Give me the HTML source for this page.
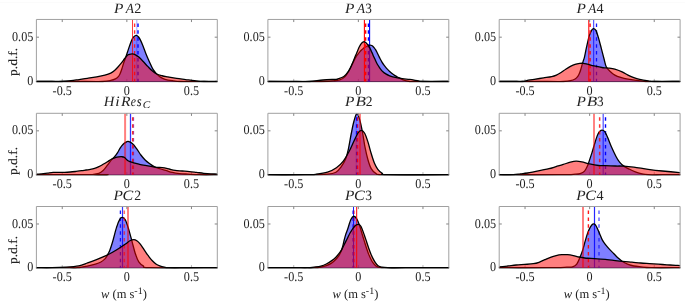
<!DOCTYPE html>
<html><head><meta charset="utf-8"><title>pdf of w</title>
<style>
html,body{margin:0;padding:0;background:#fff;}
body{width:685px;height:301px;overflow:hidden;}
svg{display:block;}
text{font-family:"Liberation Serif",serif;fill:#222;text-rendering:geometricPrecision;}
.tk{font-size:13.5px;}
.ti{font-size:14px;font-style:italic;}
.tn{font-size:13.6px;}
.ax{fill:none;stroke:#a0a0a0;stroke-width:1;}
.cv{fill:none;stroke:#000;stroke-width:1.3;stroke-linejoin:round;}
</style></head><body>
<svg width="685" height="301" viewBox="0 0 685 301">
<rect width="685" height="301" fill="#fff"/><rect y="2" width="685" height="1" fill="#fbfbfb"/>

<path class="ax" style="stroke:#b4b4b4" d="M62.24,81.50 v-2.6 M126.85,81.50 v-2.6 M191.46,81.50 v-2.6"/>
<line x1="35.90" y1="81.60" x2="217.80" y2="81.60" stroke="#1c1c1c" stroke-width="0.9"/>
<clipPath id="c1"><rect x="36.40" y="19.45" width="180.90" height="63.05"/></clipPath>
<g clip-path="url(#c1)">
<line x1="136.80" y1="19.45" x2="136.80" y2="81.50" stroke="#0000ff" stroke-width="1.0" stroke-opacity="0.35"/>
<line x1="138.00" y1="19.45" x2="138.00" y2="81.50" stroke="#0000ff" stroke-width="1.4" stroke-opacity="1" stroke-dasharray="3.5 3.4" stroke-dashoffset="2.9"/>
<path d="M24.40,81.50 C34.56,81.50 72.36,81.50 85.38,81.50 C98.41,81.50 98.33,81.67 102.55,81.50 C106.78,81.33 108.59,80.89 110.73,80.46 C112.87,80.03 114.14,79.58 115.40,78.94 C116.67,78.30 117.54,77.48 118.32,76.61 C119.10,75.73 119.49,74.95 120.07,73.69 C120.66,72.42 121.24,70.77 121.82,69.01 C122.41,67.26 122.99,64.93 123.58,63.18 C124.16,61.42 124.46,61.01 125.33,58.50 C126.20,56.00 127.83,50.92 128.78,48.16 C129.72,45.39 130.26,43.71 131.00,41.93 C131.75,40.14 132.38,38.55 133.23,37.47 C134.08,36.40 135.23,35.55 136.12,35.47 C137.01,35.40 137.83,36.21 138.57,37.03 C139.31,37.85 139.83,38.88 140.57,40.37 C141.32,41.85 142.13,43.71 143.02,45.93 C143.91,48.16 144.88,51.12 145.92,53.72 C146.95,56.32 148.14,59.02 149.25,61.51 C150.37,63.99 151.48,66.70 152.59,68.63 C153.70,70.56 154.63,71.67 155.93,73.08 C157.23,74.49 158.86,76.05 160.38,77.09 C161.90,78.13 163.09,78.72 165.05,79.31 C167.02,79.91 169.51,80.28 172.18,80.65 C174.85,81.01 175.77,81.36 181.08,81.50 C186.38,81.64 195.96,81.50 204.00,81.50 C212.04,81.50 225.08,81.50 229.30,81.50 L229.30,81.50 L24.40,81.50 Z" fill="#0000ff" fill-opacity="0.5" stroke="none"/>
<path class="cv" d="M24.40,81.50 C34.56,81.50 72.36,81.50 85.38,81.50 C98.41,81.50 98.33,81.67 102.55,81.50 C106.78,81.33 108.59,80.89 110.73,80.46 C112.87,80.03 114.14,79.58 115.40,78.94 C116.67,78.30 117.54,77.48 118.32,76.61 C119.10,75.73 119.49,74.95 120.07,73.69 C120.66,72.42 121.24,70.77 121.82,69.01 C122.41,67.26 122.99,64.93 123.58,63.18 C124.16,61.42 124.46,61.01 125.33,58.50 C126.20,56.00 127.83,50.92 128.78,48.16 C129.72,45.39 130.26,43.71 131.00,41.93 C131.75,40.14 132.38,38.55 133.23,37.47 C134.08,36.40 135.23,35.55 136.12,35.47 C137.01,35.40 137.83,36.21 138.57,37.03 C139.31,37.85 139.83,38.88 140.57,40.37 C141.32,41.85 142.13,43.71 143.02,45.93 C143.91,48.16 144.88,51.12 145.92,53.72 C146.95,56.32 148.14,59.02 149.25,61.51 C150.37,63.99 151.48,66.70 152.59,68.63 C153.70,70.56 154.63,71.67 155.93,73.08 C157.23,74.49 158.86,76.05 160.38,77.09 C161.90,78.13 163.09,78.72 165.05,79.31 C167.02,79.91 169.51,80.28 172.18,80.65 C174.85,81.01 175.77,81.36 181.08,81.50 C186.38,81.64 195.96,81.50 204.00,81.50 C212.04,81.50 225.08,81.50 229.30,81.50"/>
<line x1="132.50" y1="19.45" x2="132.50" y2="81.50" stroke="#ff0000" stroke-width="0.9" stroke-opacity="0.85"/>
<line x1="134.60" y1="19.45" x2="134.60" y2="81.50" stroke="#ff0000" stroke-width="1.4" stroke-opacity="0.8" stroke-dasharray="3.5 3.4" stroke-dashoffset="2.9"/>
<path d="M24.40,81.50 C26.40,81.50 31.82,81.50 36.42,81.50 C41.02,81.50 47.79,81.50 52.00,81.50 C56.21,81.50 58.51,81.63 61.68,81.50 C64.85,81.37 68.10,81.02 71.02,80.69 C73.94,80.36 76.47,79.91 79.20,79.53 C81.92,79.14 84.45,78.81 87.37,78.36 C90.29,77.91 93.80,77.38 96.72,76.84 C99.64,76.29 102.55,75.71 104.89,75.09 C107.23,74.46 109.17,73.82 110.73,73.10 C112.29,72.38 113.07,71.74 114.23,70.77 C115.40,69.79 116.57,68.53 117.74,67.26 C118.91,66.00 120.07,64.64 121.24,63.18 C122.41,61.72 123.67,59.87 124.74,58.50 C125.82,57.14 126.99,55.65 127.66,55.00 C128.34,54.35 128.04,54.79 128.78,54.61 C129.52,54.43 131.00,53.91 132.12,53.94 C133.23,53.98 134.34,54.31 135.46,54.83 C136.57,55.35 137.50,55.95 138.79,57.06 C140.09,58.17 141.76,59.95 143.24,61.51 C144.73,63.07 146.21,64.85 147.70,66.41 C149.18,67.96 150.66,69.60 152.15,70.86 C153.63,72.12 154.93,73.16 156.60,73.97 C158.27,74.79 160.31,75.27 162.16,75.75 C164.02,76.23 165.31,76.42 167.72,76.87 C170.14,77.31 173.66,77.98 176.63,78.42 C179.59,78.87 182.56,79.16 185.53,79.54 C188.50,79.91 191.35,80.32 194.43,80.65 C197.51,80.98 199.92,81.36 204.00,81.50 C208.08,81.64 214.69,81.50 218.91,81.50 C223.13,81.50 227.57,81.50 229.30,81.50 L229.30,81.50 L24.40,81.50 Z" fill="#ff0000" fill-opacity="0.5" stroke="none"/>
<path class="cv" d="M24.40,81.50 C26.40,81.50 31.82,81.50 36.42,81.50 C41.02,81.50 47.79,81.50 52.00,81.50 C56.21,81.50 58.51,81.63 61.68,81.50 C64.85,81.37 68.10,81.02 71.02,80.69 C73.94,80.36 76.47,79.91 79.20,79.53 C81.92,79.14 84.45,78.81 87.37,78.36 C90.29,77.91 93.80,77.38 96.72,76.84 C99.64,76.29 102.55,75.71 104.89,75.09 C107.23,74.46 109.17,73.82 110.73,73.10 C112.29,72.38 113.07,71.74 114.23,70.77 C115.40,69.79 116.57,68.53 117.74,67.26 C118.91,66.00 120.07,64.64 121.24,63.18 C122.41,61.72 123.67,59.87 124.74,58.50 C125.82,57.14 126.99,55.65 127.66,55.00 C128.34,54.35 128.04,54.79 128.78,54.61 C129.52,54.43 131.00,53.91 132.12,53.94 C133.23,53.98 134.34,54.31 135.46,54.83 C136.57,55.35 137.50,55.95 138.79,57.06 C140.09,58.17 141.76,59.95 143.24,61.51 C144.73,63.07 146.21,64.85 147.70,66.41 C149.18,67.96 150.66,69.60 152.15,70.86 C153.63,72.12 154.93,73.16 156.60,73.97 C158.27,74.79 160.31,75.27 162.16,75.75 C164.02,76.23 165.31,76.42 167.72,76.87 C170.14,77.31 173.66,77.98 176.63,78.42 C179.59,78.87 182.56,79.16 185.53,79.54 C188.50,79.91 191.35,80.32 194.43,80.65 C197.51,80.98 199.92,81.36 204.00,81.50 C208.08,81.64 214.69,81.50 218.91,81.50 C223.13,81.50 227.57,81.50 229.30,81.50"/>
</g>
<path class="ax" d="M36.40,81.50 L36.40,19.45 L217.30,19.45 L217.30,81.50"/>
<path class="ax" style="stroke:#858585" d="M62.24,19.45 v2.60 M126.85,19.45 v2.60 M191.46,19.45 v2.60 M36.40,37.18 h2.60 M217.30,37.18 h-2.60"/>
<text class="tk" transform="translate(62.24,95.20) scale(0.9,1)" text-anchor="middle">-0.5</text>
<text class="tk" transform="translate(126.85,95.20) scale(0.9,1)" text-anchor="middle">0</text>
<text class="tk" transform="translate(191.46,95.20) scale(0.9,1)" text-anchor="middle">0.5</text>
<text class="tk" transform="translate(33.30,40.78) scale(0.9,1)" text-anchor="end">0.05</text>
<text class="tk" transform="translate(33.30,85.10) scale(0.9,1)" text-anchor="end">0</text>
<text y="12.50"><tspan x="113.90" textLength="9.38" lengthAdjust="spacingAndGlyphs" style="font-size:14.2px;font-style:italic">P</tspan><tspan x="125.87" textLength="8.24" lengthAdjust="spacingAndGlyphs" style="font-size:14.2px;font-style:italic">A</tspan><tspan x="134.33" textLength="7.12" lengthAdjust="spacingAndGlyphs" style="font-size:14.2px">2</tspan></text>
<text class="tk" transform="translate(17.2,61.90) rotate(-90) scale(1.085,1)" text-anchor="middle" style="font-size:12.5px;stroke:#222;stroke-width:0.15px">p.d.f.</text>
<path class="ax" style="stroke:#b4b4b4" d="M293.74,81.50 v-2.6 M358.35,81.50 v-2.6 M422.96,81.50 v-2.6"/>
<line x1="267.40" y1="81.60" x2="449.30" y2="81.60" stroke="#1c1c1c" stroke-width="0.9"/>
<clipPath id="c2"><rect x="267.90" y="19.45" width="180.90" height="63.05"/></clipPath>
<g clip-path="url(#c2)">
<line x1="368.50" y1="19.45" x2="368.50" y2="81.50" stroke="#0000ff" stroke-width="1.5" stroke-opacity="1" stroke-dasharray="3.5 3.4" stroke-dashoffset="2.9"/>
<line x1="369.60" y1="19.45" x2="369.60" y2="81.50" stroke="#0000ff" stroke-width="1.1" stroke-opacity="1"/>
<path d="M255.90,81.50 C265.98,81.50 303.52,81.60 316.38,81.50 C329.24,81.40 329.18,81.12 333.07,80.87 C336.97,80.62 337.75,80.69 339.75,79.98 C341.75,79.28 343.59,78.11 345.09,76.64 C346.59,75.17 347.59,73.14 348.74,71.17 C349.89,69.20 350.91,66.99 352.00,64.82 C353.08,62.64 354.29,59.89 355.25,58.14 C356.22,56.38 357.07,55.29 357.80,54.28 C358.53,53.27 359.02,52.79 359.63,52.09 C360.23,51.38 360.84,50.65 361.45,50.04 C362.06,49.43 362.67,48.92 363.28,48.43 C363.89,47.94 364.50,47.48 365.11,47.12 C365.72,46.75 366.39,46.51 366.94,46.24 C367.49,45.97 367.85,45.69 368.40,45.51 C368.95,45.32 369.68,45.14 370.23,45.14 C370.78,45.14 371.26,45.32 371.69,45.51 C372.12,45.69 372.36,45.85 372.79,46.24 C373.21,46.63 373.76,47.24 374.25,47.85 C374.74,48.46 375.23,49.09 375.71,49.89 C376.20,50.70 376.69,51.70 377.18,52.67 C377.66,53.65 378.17,54.76 378.64,55.74 C379.11,56.73 379.46,57.54 379.99,58.56 C380.52,59.58 381.15,60.75 381.82,61.85 C382.49,62.95 383.22,64.04 384.01,65.14 C384.80,66.24 385.72,67.46 386.57,68.43 C387.43,69.41 388.22,70.14 389.13,70.99 C390.05,71.84 391.08,72.78 392.06,73.55 C393.03,74.32 394.01,74.99 394.98,75.60 C395.96,76.21 396.43,76.44 397.91,77.21 C399.38,77.97 401.87,79.47 403.83,80.18 C405.80,80.90 407.97,81.28 409.68,81.50 C411.38,81.72 407.24,81.50 414.06,81.50 C420.88,81.50 442.80,81.50 450.59,81.50 C458.38,81.50 459.10,81.50 460.80,81.50 L460.80,81.50 L255.90,81.50 Z" fill="#0000ff" fill-opacity="0.5" stroke="none"/>
<path class="cv" d="M255.90,81.50 C265.98,81.50 303.52,81.60 316.38,81.50 C329.24,81.40 329.18,81.12 333.07,80.87 C336.97,80.62 337.75,80.69 339.75,79.98 C341.75,79.28 343.59,78.11 345.09,76.64 C346.59,75.17 347.59,73.14 348.74,71.17 C349.89,69.20 350.91,66.99 352.00,64.82 C353.08,62.64 354.29,59.89 355.25,58.14 C356.22,56.38 357.07,55.29 357.80,54.28 C358.53,53.27 359.02,52.79 359.63,52.09 C360.23,51.38 360.84,50.65 361.45,50.04 C362.06,49.43 362.67,48.92 363.28,48.43 C363.89,47.94 364.50,47.48 365.11,47.12 C365.72,46.75 366.39,46.51 366.94,46.24 C367.49,45.97 367.85,45.69 368.40,45.51 C368.95,45.32 369.68,45.14 370.23,45.14 C370.78,45.14 371.26,45.32 371.69,45.51 C372.12,45.69 372.36,45.85 372.79,46.24 C373.21,46.63 373.76,47.24 374.25,47.85 C374.74,48.46 375.23,49.09 375.71,49.89 C376.20,50.70 376.69,51.70 377.18,52.67 C377.66,53.65 378.17,54.76 378.64,55.74 C379.11,56.73 379.46,57.54 379.99,58.56 C380.52,59.58 381.15,60.75 381.82,61.85 C382.49,62.95 383.22,64.04 384.01,65.14 C384.80,66.24 385.72,67.46 386.57,68.43 C387.43,69.41 388.22,70.14 389.13,70.99 C390.05,71.84 391.08,72.78 392.06,73.55 C393.03,74.32 394.01,74.99 394.98,75.60 C395.96,76.21 396.43,76.44 397.91,77.21 C399.38,77.97 401.87,79.47 403.83,80.18 C405.80,80.90 407.97,81.28 409.68,81.50 C411.38,81.72 407.24,81.50 414.06,81.50 C420.88,81.50 442.80,81.50 450.59,81.50 C458.38,81.50 459.10,81.50 460.80,81.50"/>
<line x1="364.40" y1="19.45" x2="364.40" y2="81.50" stroke="#ff0000" stroke-width="1.1" stroke-opacity="1"/>
<line x1="365.60" y1="19.45" x2="365.60" y2="81.50" stroke="#ff0000" stroke-width="1.5" stroke-opacity="1" stroke-dasharray="3.5 3.4" stroke-dashoffset="2.9"/>
<path d="M255.90,81.50 C257.82,81.50 260.68,81.50 267.42,81.50 C274.16,81.50 289.31,81.50 296.35,81.50 C303.40,81.50 305.25,81.75 309.71,81.50 C314.16,81.25 318.61,80.35 323.06,79.98 C327.51,79.62 334.03,79.48 336.41,79.31 C338.79,79.15 336.09,79.45 337.33,78.99 C338.57,78.53 341.95,77.91 343.85,76.55 C345.75,75.19 347.38,72.88 348.74,70.85 C350.10,68.81 350.91,66.77 352.00,64.33 C353.08,61.88 354.53,57.92 355.25,56.18 C355.98,54.45 355.97,54.72 356.33,53.92 C356.70,53.11 357.07,52.25 357.43,51.36 C357.80,50.47 358.16,49.43 358.53,48.58 C358.89,47.72 359.26,46.93 359.63,46.24 C359.99,45.54 360.36,44.95 360.72,44.41 C361.09,43.87 361.45,43.41 361.82,43.02 C362.18,42.63 362.55,42.29 362.92,42.07 C363.28,41.85 363.65,41.69 364.01,41.70 C364.38,41.72 364.74,41.92 365.11,42.14 C365.48,42.36 365.84,42.68 366.21,43.02 C366.57,43.36 366.94,43.78 367.30,44.19 C367.67,44.60 368.03,44.98 368.40,45.51 C368.77,46.03 369.19,46.79 369.50,47.33 C369.80,47.88 369.92,48.15 370.23,48.80 C370.53,49.44 370.96,50.42 371.33,51.21 C371.69,52.00 372.06,52.70 372.42,53.55 C372.79,54.40 373.11,55.43 373.52,56.33 C373.93,57.22 374.40,57.94 374.87,58.93 C375.34,59.91 375.79,61.12 376.33,62.22 C376.88,63.31 377.49,64.41 378.16,65.51 C378.83,66.60 379.56,67.76 380.36,68.80 C381.15,69.83 382.00,70.87 382.92,71.72 C383.83,72.58 384.80,73.27 385.84,73.92 C386.88,74.56 387.97,75.11 389.13,75.60 C390.29,76.09 390.58,76.32 392.79,76.84 C394.99,77.36 399.56,78.29 402.37,78.72 C405.19,79.15 407.00,79.09 409.68,79.45 C412.36,79.82 416.25,80.57 418.45,80.91 C420.64,81.25 417.47,81.40 422.83,81.50 C428.19,81.60 444.26,81.50 450.59,81.50 C456.92,81.50 459.10,81.50 460.80,81.50 L460.80,81.50 L255.90,81.50 Z" fill="#ff0000" fill-opacity="0.5" stroke="none"/>
<path class="cv" d="M255.90,81.50 C257.82,81.50 260.68,81.50 267.42,81.50 C274.16,81.50 289.31,81.50 296.35,81.50 C303.40,81.50 305.25,81.75 309.71,81.50 C314.16,81.25 318.61,80.35 323.06,79.98 C327.51,79.62 334.03,79.48 336.41,79.31 C338.79,79.15 336.09,79.45 337.33,78.99 C338.57,78.53 341.95,77.91 343.85,76.55 C345.75,75.19 347.38,72.88 348.74,70.85 C350.10,68.81 350.91,66.77 352.00,64.33 C353.08,61.88 354.53,57.92 355.25,56.18 C355.98,54.45 355.97,54.72 356.33,53.92 C356.70,53.11 357.07,52.25 357.43,51.36 C357.80,50.47 358.16,49.43 358.53,48.58 C358.89,47.72 359.26,46.93 359.63,46.24 C359.99,45.54 360.36,44.95 360.72,44.41 C361.09,43.87 361.45,43.41 361.82,43.02 C362.18,42.63 362.55,42.29 362.92,42.07 C363.28,41.85 363.65,41.69 364.01,41.70 C364.38,41.72 364.74,41.92 365.11,42.14 C365.48,42.36 365.84,42.68 366.21,43.02 C366.57,43.36 366.94,43.78 367.30,44.19 C367.67,44.60 368.03,44.98 368.40,45.51 C368.77,46.03 369.19,46.79 369.50,47.33 C369.80,47.88 369.92,48.15 370.23,48.80 C370.53,49.44 370.96,50.42 371.33,51.21 C371.69,52.00 372.06,52.70 372.42,53.55 C372.79,54.40 373.11,55.43 373.52,56.33 C373.93,57.22 374.40,57.94 374.87,58.93 C375.34,59.91 375.79,61.12 376.33,62.22 C376.88,63.31 377.49,64.41 378.16,65.51 C378.83,66.60 379.56,67.76 380.36,68.80 C381.15,69.83 382.00,70.87 382.92,71.72 C383.83,72.58 384.80,73.27 385.84,73.92 C386.88,74.56 387.97,75.11 389.13,75.60 C390.29,76.09 390.58,76.32 392.79,76.84 C394.99,77.36 399.56,78.29 402.37,78.72 C405.19,79.15 407.00,79.09 409.68,79.45 C412.36,79.82 416.25,80.57 418.45,80.91 C420.64,81.25 417.47,81.40 422.83,81.50 C428.19,81.60 444.26,81.50 450.59,81.50 C456.92,81.50 459.10,81.50 460.80,81.50"/>
</g>
<path class="ax" d="M267.90,81.50 L267.90,19.45 L448.80,19.45 L448.80,81.50"/>
<path class="ax" style="stroke:#858585" d="M293.74,19.45 v2.60 M358.35,19.45 v2.60 M422.96,19.45 v2.60 M267.90,37.18 h2.60 M448.80,37.18 h-2.60"/>
<text class="tk" transform="translate(293.74,95.20) scale(0.9,1)" text-anchor="middle">-0.5</text>
<text class="tk" transform="translate(358.35,95.20) scale(0.9,1)" text-anchor="middle">0</text>
<text class="tk" transform="translate(422.96,95.20) scale(0.9,1)" text-anchor="middle">0.5</text>
<text class="tk" transform="translate(264.80,40.78) scale(0.9,1)" text-anchor="end">0.05</text>
<text class="tk" transform="translate(264.80,85.10) scale(0.9,1)" text-anchor="end">0</text>
<text y="12.50"><tspan x="345.10" textLength="9.38" lengthAdjust="spacingAndGlyphs" style="font-size:14.2px;font-style:italic">P</tspan><tspan x="356.78" textLength="8.33" lengthAdjust="spacingAndGlyphs" style="font-size:14.2px;font-style:italic">A</tspan><tspan x="365.14" textLength="6.59" lengthAdjust="spacingAndGlyphs" style="font-size:14.2px">3</tspan></text>
<path class="ax" style="stroke:#b4b4b4" d="M525.04,81.50 v-2.6 M589.65,81.50 v-2.6 M654.26,81.50 v-2.6"/>
<line x1="498.70" y1="81.60" x2="680.60" y2="81.60" stroke="#1c1c1c" stroke-width="0.9"/>
<clipPath id="c3"><rect x="499.20" y="19.45" width="180.90" height="63.05"/></clipPath>
<g clip-path="url(#c3)">
<line x1="593.70" y1="19.45" x2="593.70" y2="81.50" stroke="#0000ff" stroke-width="1.0" stroke-opacity="0.8"/>
<line x1="596.50" y1="19.45" x2="596.50" y2="81.50" stroke="#0000ff" stroke-width="1.3" stroke-opacity="0.9" stroke-dasharray="3.5 3.4" stroke-dashoffset="2.9"/>
<path d="M487.20,81.50 C497.23,81.50 534.68,81.50 547.38,81.50 C560.08,81.50 559.56,81.63 563.39,81.50 C567.23,81.37 568.45,81.12 570.40,80.69 C572.35,80.27 573.81,79.72 575.07,78.94 C576.34,78.16 577.21,77.09 577.99,76.02 C578.77,74.95 579.26,73.69 579.74,72.52 C580.23,71.35 580.52,70.28 580.91,69.01 C581.30,67.75 581.69,66.29 582.08,64.93 C582.47,63.56 582.86,62.10 583.25,60.84 C583.64,59.57 583.90,59.45 584.42,57.34 C584.93,55.22 585.53,51.73 586.33,48.16 C587.13,44.59 588.29,38.96 589.22,35.92 C590.15,32.88 591.15,31.13 591.89,29.91 C592.63,28.68 593.00,28.50 593.67,28.57 C594.34,28.65 595.08,28.76 595.90,30.35 C596.71,31.95 597.68,35.17 598.57,38.14 C599.46,41.11 600.31,44.63 601.24,48.16 C602.17,51.68 603.28,56.13 604.13,59.28 C604.98,62.44 605.30,65.00 606.36,67.07 C607.41,69.14 609.04,70.37 610.46,71.71 C611.87,73.04 613.13,74.12 614.84,75.07 C616.54,76.02 618.49,76.72 620.68,77.41 C622.88,78.09 625.31,78.65 627.99,79.16 C630.67,79.67 633.83,80.08 636.76,80.47 C639.68,80.86 642.60,81.33 645.52,81.50 C648.45,81.67 648.54,81.50 654.29,81.50 C660.04,81.50 673.70,81.50 680.01,81.50 C686.31,81.50 690.08,81.50 692.10,81.50 L692.10,81.50 L487.20,81.50 Z" fill="#0000ff" fill-opacity="0.5" stroke="none"/>
<path class="cv" d="M487.20,81.50 C497.23,81.50 534.68,81.50 547.38,81.50 C560.08,81.50 559.56,81.63 563.39,81.50 C567.23,81.37 568.45,81.12 570.40,80.69 C572.35,80.27 573.81,79.72 575.07,78.94 C576.34,78.16 577.21,77.09 577.99,76.02 C578.77,74.95 579.26,73.69 579.74,72.52 C580.23,71.35 580.52,70.28 580.91,69.01 C581.30,67.75 581.69,66.29 582.08,64.93 C582.47,63.56 582.86,62.10 583.25,60.84 C583.64,59.57 583.90,59.45 584.42,57.34 C584.93,55.22 585.53,51.73 586.33,48.16 C587.13,44.59 588.29,38.96 589.22,35.92 C590.15,32.88 591.15,31.13 591.89,29.91 C592.63,28.68 593.00,28.50 593.67,28.57 C594.34,28.65 595.08,28.76 595.90,30.35 C596.71,31.95 597.68,35.17 598.57,38.14 C599.46,41.11 600.31,44.63 601.24,48.16 C602.17,51.68 603.28,56.13 604.13,59.28 C604.98,62.44 605.30,65.00 606.36,67.07 C607.41,69.14 609.04,70.37 610.46,71.71 C611.87,73.04 613.13,74.12 614.84,75.07 C616.54,76.02 618.49,76.72 620.68,77.41 C622.88,78.09 625.31,78.65 627.99,79.16 C630.67,79.67 633.83,80.08 636.76,80.47 C639.68,80.86 642.60,81.33 645.52,81.50 C648.45,81.67 648.54,81.50 654.29,81.50 C660.04,81.50 673.70,81.50 680.01,81.50 C686.31,81.50 690.08,81.50 692.10,81.50"/>
<line x1="588.75" y1="19.45" x2="588.75" y2="81.50" stroke="#ff0000" stroke-width="1.3" stroke-opacity="0.8"/>
<line x1="590.10" y1="19.45" x2="590.10" y2="81.50" stroke="#ff0000" stroke-width="1.5" stroke-opacity="0.9" stroke-dasharray="3.5 3.4" stroke-dashoffset="2.9"/>
<path d="M487.20,81.50 C489.07,81.50 495.07,81.50 498.42,81.50 C501.78,81.50 504.28,81.50 507.32,81.50 C510.37,81.50 514.15,81.50 516.68,81.50 C519.21,81.50 520.57,81.71 522.52,81.50 C524.46,81.29 526.41,80.59 528.36,80.23 C530.30,79.86 531.67,79.68 534.20,79.29 C536.73,78.90 540.62,78.34 543.54,77.89 C546.46,77.44 549.57,77.07 551.72,76.61 C553.86,76.14 554.83,75.77 556.39,75.09 C557.94,74.41 559.50,73.49 561.06,72.52 C562.62,71.55 564.17,70.26 565.73,69.25 C567.29,68.24 568.84,67.26 570.40,66.45 C571.96,65.63 573.52,64.85 575.07,64.34 C576.63,63.84 578.38,63.58 579.74,63.41 C581.11,63.23 581.97,63.16 583.25,63.29 C584.53,63.42 585.63,63.74 587.44,64.18 C589.25,64.62 591.52,65.37 594.12,65.96 C596.71,66.55 600.66,67.39 603.02,67.74 C605.38,68.09 606.29,67.83 608.26,68.05 C610.23,68.28 612.53,68.44 614.84,69.08 C617.15,69.71 619.95,70.85 622.14,71.85 C624.34,72.85 626.04,74.09 627.99,75.07 C629.94,76.04 631.89,76.97 633.83,77.70 C635.78,78.43 637.24,78.91 639.68,79.45 C642.11,79.99 646.01,80.57 648.45,80.91 C650.88,81.25 649.03,81.40 654.29,81.50 C659.55,81.60 673.67,81.50 680.01,81.50 C686.34,81.50 690.23,81.50 692.28,81.50 L692.28,81.50 L487.20,81.50 Z" fill="#ff0000" fill-opacity="0.5" stroke="none"/>
<path class="cv" d="M487.20,81.50 C489.07,81.50 495.07,81.50 498.42,81.50 C501.78,81.50 504.28,81.50 507.32,81.50 C510.37,81.50 514.15,81.50 516.68,81.50 C519.21,81.50 520.57,81.71 522.52,81.50 C524.46,81.29 526.41,80.59 528.36,80.23 C530.30,79.86 531.67,79.68 534.20,79.29 C536.73,78.90 540.62,78.34 543.54,77.89 C546.46,77.44 549.57,77.07 551.72,76.61 C553.86,76.14 554.83,75.77 556.39,75.09 C557.94,74.41 559.50,73.49 561.06,72.52 C562.62,71.55 564.17,70.26 565.73,69.25 C567.29,68.24 568.84,67.26 570.40,66.45 C571.96,65.63 573.52,64.85 575.07,64.34 C576.63,63.84 578.38,63.58 579.74,63.41 C581.11,63.23 581.97,63.16 583.25,63.29 C584.53,63.42 585.63,63.74 587.44,64.18 C589.25,64.62 591.52,65.37 594.12,65.96 C596.71,66.55 600.66,67.39 603.02,67.74 C605.38,68.09 606.29,67.83 608.26,68.05 C610.23,68.28 612.53,68.44 614.84,69.08 C617.15,69.71 619.95,70.85 622.14,71.85 C624.34,72.85 626.04,74.09 627.99,75.07 C629.94,76.04 631.89,76.97 633.83,77.70 C635.78,78.43 637.24,78.91 639.68,79.45 C642.11,79.99 646.01,80.57 648.45,80.91 C650.88,81.25 649.03,81.40 654.29,81.50 C659.55,81.60 673.67,81.50 680.01,81.50 C686.34,81.50 690.23,81.50 692.28,81.50"/>
</g>
<path class="ax" d="M499.20,81.50 L499.20,19.45 L680.10,19.45 L680.10,81.50"/>
<path class="ax" style="stroke:#858585" d="M525.04,19.45 v2.60 M589.65,19.45 v2.60 M654.26,19.45 v2.60 M499.20,37.18 h2.60 M680.10,37.18 h-2.60"/>
<text class="tk" transform="translate(525.04,95.20) scale(0.9,1)" text-anchor="middle">-0.5</text>
<text class="tk" transform="translate(589.65,95.20) scale(0.9,1)" text-anchor="middle">0</text>
<text class="tk" transform="translate(654.26,95.20) scale(0.9,1)" text-anchor="middle">0.5</text>
<text class="tk" transform="translate(496.10,40.78) scale(0.9,1)" text-anchor="end">0.05</text>
<text class="tk" transform="translate(496.10,85.10) scale(0.9,1)" text-anchor="end">0</text>
<text y="12.50"><tspan x="576.40" textLength="9.38" lengthAdjust="spacingAndGlyphs" style="font-size:14.2px;font-style:italic">P</tspan><tspan x="588.08" textLength="8.33" lengthAdjust="spacingAndGlyphs" style="font-size:14.2px;font-style:italic">A</tspan><tspan x="596.52" textLength="7.07" lengthAdjust="spacingAndGlyphs" style="font-size:14.2px">4</tspan></text>
<path class="ax" style="stroke:#b4b4b4" d="M62.24,174.70 v-2.6 M126.85,174.70 v-2.6 M191.46,174.70 v-2.6"/>
<line x1="35.90" y1="174.80" x2="217.80" y2="174.80" stroke="#1c1c1c" stroke-width="0.9"/>
<clipPath id="c4"><rect x="36.40" y="113.30" width="180.90" height="62.40"/></clipPath>
<g clip-path="url(#c4)">
<line x1="130.50" y1="113.30" x2="130.50" y2="174.70" stroke="#0000ff" stroke-width="1.3" stroke-opacity="0.8"/>
<line x1="133.40" y1="113.30" x2="133.40" y2="174.70" stroke="#0000ff" stroke-width="1.5" stroke-opacity="0.5" stroke-dasharray="3.5 3.4" stroke-dashoffset="2.9"/>
<path d="M24.40,174.70 C32.71,174.70 60.38,174.70 74.25,174.70 C88.13,174.70 104.49,174.70 107.64,174.70 C110.78,174.70 94.61,174.94 93.14,174.70 C91.68,174.46 97.19,174.00 98.86,173.29 C100.52,172.57 101.95,171.45 103.14,170.43 C104.33,169.40 105.05,168.33 106.00,167.14 C106.95,165.95 107.90,164.55 108.86,163.29 C109.81,162.02 110.76,160.67 111.71,159.57 C112.67,158.48 113.62,157.83 114.57,156.71 C115.52,155.60 116.48,154.33 117.43,152.86 C118.38,151.38 119.33,149.29 120.29,147.86 C121.24,146.43 122.19,145.24 123.14,144.29 C124.10,143.33 125.17,142.61 126.00,142.14 C126.83,141.68 127.06,141.25 128.11,141.49 C129.16,141.73 130.88,142.39 132.29,143.57 C133.70,144.75 135.14,146.67 136.57,148.57 C138.00,150.48 139.43,153.10 140.86,155.00 C142.29,156.90 143.71,158.57 145.14,160.00 C146.57,161.43 148.00,162.50 149.43,163.57 C150.86,164.64 152.52,165.76 153.71,166.43 C154.90,167.10 155.38,167.14 156.57,167.57 C157.76,168.00 159.19,168.48 160.86,169.00 C162.52,169.52 164.67,170.14 166.57,170.71 C168.48,171.29 170.14,171.95 172.29,172.43 C174.43,172.90 176.81,173.29 179.43,173.57 C182.05,173.86 184.67,173.95 188.00,174.14 C191.33,174.33 194.19,174.61 199.43,174.70 C204.67,174.79 214.45,174.70 219.43,174.70 C224.41,174.70 227.65,174.70 229.30,174.70 L229.30,174.70 L24.40,174.70 Z" fill="#0000ff" fill-opacity="0.5" stroke="none"/>
<path class="cv" d="M24.40,174.70 C32.71,174.70 60.38,174.70 74.25,174.70 C88.13,174.70 104.49,174.70 107.64,174.70 C110.78,174.70 94.61,174.94 93.14,174.70 C91.68,174.46 97.19,174.00 98.86,173.29 C100.52,172.57 101.95,171.45 103.14,170.43 C104.33,169.40 105.05,168.33 106.00,167.14 C106.95,165.95 107.90,164.55 108.86,163.29 C109.81,162.02 110.76,160.67 111.71,159.57 C112.67,158.48 113.62,157.83 114.57,156.71 C115.52,155.60 116.48,154.33 117.43,152.86 C118.38,151.38 119.33,149.29 120.29,147.86 C121.24,146.43 122.19,145.24 123.14,144.29 C124.10,143.33 125.17,142.61 126.00,142.14 C126.83,141.68 127.06,141.25 128.11,141.49 C129.16,141.73 130.88,142.39 132.29,143.57 C133.70,144.75 135.14,146.67 136.57,148.57 C138.00,150.48 139.43,153.10 140.86,155.00 C142.29,156.90 143.71,158.57 145.14,160.00 C146.57,161.43 148.00,162.50 149.43,163.57 C150.86,164.64 152.52,165.76 153.71,166.43 C154.90,167.10 155.38,167.14 156.57,167.57 C157.76,168.00 159.19,168.48 160.86,169.00 C162.52,169.52 164.67,170.14 166.57,170.71 C168.48,171.29 170.14,171.95 172.29,172.43 C174.43,172.90 176.81,173.29 179.43,173.57 C182.05,173.86 184.67,173.95 188.00,174.14 C191.33,174.33 194.19,174.61 199.43,174.70 C204.67,174.79 214.45,174.70 219.43,174.70 C224.41,174.70 227.65,174.70 229.30,174.70"/>
<line x1="125.10" y1="113.30" x2="125.10" y2="174.70" stroke="#ff0000" stroke-width="2.0" stroke-opacity="0.5"/>
<line x1="132.80" y1="113.30" x2="132.80" y2="174.70" stroke="#ff0000" stroke-width="1.7" stroke-opacity="0.8" stroke-dasharray="3.5 3.4" stroke-dashoffset="2.9"/>
<path d="M24.57,174.70 C26.48,174.61 33.14,174.28 36.00,174.14 C38.86,174.00 39.81,174.02 41.71,173.86 C43.62,173.69 45.52,173.38 47.43,173.14 C49.33,172.90 51.24,172.57 53.14,172.43 C55.05,172.29 56.95,172.31 58.86,172.29 C60.76,172.26 62.67,172.33 64.57,172.29 C66.48,172.24 68.38,172.14 70.29,172.00 C72.19,171.86 74.10,171.64 76.00,171.43 C77.90,171.21 80.05,170.95 81.71,170.71 C83.38,170.48 84.57,170.21 86.00,170.00 C87.43,169.79 88.86,169.69 90.29,169.43 C91.71,169.17 93.14,168.88 94.57,168.43 C96.00,167.98 97.43,167.40 98.86,166.71 C100.29,166.02 101.71,165.12 103.14,164.29 C104.57,163.45 106.00,162.60 107.43,161.71 C108.86,160.83 110.40,159.69 111.71,159.00 C113.02,158.31 114.10,157.93 115.29,157.57 C116.48,157.21 117.79,157.00 118.86,156.86 C119.93,156.71 120.76,156.60 121.71,156.71 C122.67,156.83 123.52,156.90 124.57,157.57 C125.62,158.24 126.48,159.83 128.00,160.71 C129.52,161.60 131.81,162.26 133.71,162.86 C135.62,163.45 137.52,163.86 139.43,164.29 C141.33,164.71 143.24,165.07 145.14,165.43 C147.05,165.79 148.95,166.12 150.86,166.43 C152.76,166.74 154.67,167.10 156.57,167.29 C158.48,167.48 160.62,167.40 162.29,167.57 C163.95,167.74 165.14,167.95 166.57,168.29 C168.00,168.62 169.43,169.21 170.86,169.57 C172.29,169.93 173.24,170.19 175.14,170.43 C177.05,170.67 179.90,170.81 182.29,171.00 C184.67,171.19 187.05,171.33 189.43,171.57 C191.81,171.81 194.19,172.14 196.57,172.43 C198.95,172.71 201.33,173.05 203.71,173.29 C206.10,173.52 208.48,173.71 210.86,173.86 C213.24,174.00 215.14,174.00 218.00,174.14 C220.86,174.28 226.33,174.61 228.00,174.70 L228.00,174.70 L24.57,174.70 Z" fill="#ff0000" fill-opacity="0.5" stroke="none"/>
<path class="cv" d="M24.57,174.70 C26.48,174.61 33.14,174.28 36.00,174.14 C38.86,174.00 39.81,174.02 41.71,173.86 C43.62,173.69 45.52,173.38 47.43,173.14 C49.33,172.90 51.24,172.57 53.14,172.43 C55.05,172.29 56.95,172.31 58.86,172.29 C60.76,172.26 62.67,172.33 64.57,172.29 C66.48,172.24 68.38,172.14 70.29,172.00 C72.19,171.86 74.10,171.64 76.00,171.43 C77.90,171.21 80.05,170.95 81.71,170.71 C83.38,170.48 84.57,170.21 86.00,170.00 C87.43,169.79 88.86,169.69 90.29,169.43 C91.71,169.17 93.14,168.88 94.57,168.43 C96.00,167.98 97.43,167.40 98.86,166.71 C100.29,166.02 101.71,165.12 103.14,164.29 C104.57,163.45 106.00,162.60 107.43,161.71 C108.86,160.83 110.40,159.69 111.71,159.00 C113.02,158.31 114.10,157.93 115.29,157.57 C116.48,157.21 117.79,157.00 118.86,156.86 C119.93,156.71 120.76,156.60 121.71,156.71 C122.67,156.83 123.52,156.90 124.57,157.57 C125.62,158.24 126.48,159.83 128.00,160.71 C129.52,161.60 131.81,162.26 133.71,162.86 C135.62,163.45 137.52,163.86 139.43,164.29 C141.33,164.71 143.24,165.07 145.14,165.43 C147.05,165.79 148.95,166.12 150.86,166.43 C152.76,166.74 154.67,167.10 156.57,167.29 C158.48,167.48 160.62,167.40 162.29,167.57 C163.95,167.74 165.14,167.95 166.57,168.29 C168.00,168.62 169.43,169.21 170.86,169.57 C172.29,169.93 173.24,170.19 175.14,170.43 C177.05,170.67 179.90,170.81 182.29,171.00 C184.67,171.19 187.05,171.33 189.43,171.57 C191.81,171.81 194.19,172.14 196.57,172.43 C198.95,172.71 201.33,173.05 203.71,173.29 C206.10,173.52 208.48,173.71 210.86,173.86 C213.24,174.00 215.14,174.00 218.00,174.14 C220.86,174.28 226.33,174.61 228.00,174.70"/>
</g>
<path class="ax" d="M36.40,174.70 L36.40,113.30 L217.30,113.30 L217.30,174.70"/>
<path class="ax" style="stroke:#858585" d="M62.24,113.30 v2.60 M126.85,113.30 v2.60 M191.46,113.30 v2.60 M36.40,130.84 h2.60 M217.30,130.84 h-2.60"/>
<text class="tk" transform="translate(62.24,188.40) scale(0.9,1)" text-anchor="middle">-0.5</text>
<text class="tk" transform="translate(126.85,188.40) scale(0.9,1)" text-anchor="middle">0</text>
<text class="tk" transform="translate(191.46,188.40) scale(0.9,1)" text-anchor="middle">0.5</text>
<text class="tk" transform="translate(33.30,134.44) scale(0.9,1)" text-anchor="end">0.05</text>
<text class="tk" transform="translate(33.30,178.30) scale(0.9,1)" text-anchor="end">0</text>
<text y="105.50"><tspan x="103.65" textLength="10.64" lengthAdjust="spacingAndGlyphs" style="font-size:14.2px;font-style:italic">H</tspan><tspan x="115.35" textLength="4.39" lengthAdjust="spacingAndGlyphs" style="font-size:14.2px;font-style:italic">i</tspan><tspan x="120.90" textLength="9.53" lengthAdjust="spacingAndGlyphs" style="font-size:14.2px;font-style:italic">R</tspan><tspan x="130.65" textLength="5.24" lengthAdjust="spacingAndGlyphs" style="font-size:14.2px;font-style:italic">e</tspan><tspan x="136.67" textLength="4.89" lengthAdjust="spacingAndGlyphs" style="font-size:14.2px;font-style:italic">s</tspan><tspan x="142.83" dy="2.6" textLength="7.44" lengthAdjust="spacingAndGlyphs" style="font-size:10.2px;font-style:italic">C</tspan></text>
<text class="tk" transform="translate(17.2,161.00) rotate(-90) scale(1.085,1)" text-anchor="middle" style="font-size:12.5px;stroke:#222;stroke-width:0.15px">p.d.f.</text>
<path class="ax" style="stroke:#b4b4b4" d="M293.74,174.70 v-2.6 M358.35,174.70 v-2.6 M422.96,174.70 v-2.6"/>
<line x1="267.40" y1="174.80" x2="449.30" y2="174.80" stroke="#1c1c1c" stroke-width="0.9"/>
<clipPath id="c5"><rect x="267.90" y="113.30" width="180.90" height="62.40"/></clipPath>
<g clip-path="url(#c5)">
<line x1="356.20" y1="113.30" x2="356.20" y2="174.70" stroke="#0000ff" stroke-width="1.0" stroke-opacity="0.3"/>
<line x1="356.75" y1="113.30" x2="356.75" y2="174.70" stroke="#0000ff" stroke-width="1.7" stroke-opacity="1" stroke-dasharray="3.5 3.4" stroke-dashoffset="2.9"/>
<path d="M255.90,174.70 C264.13,174.70 293.32,174.78 305.25,174.70 C317.19,174.62 322.39,174.62 327.51,174.20 C332.63,173.79 333.67,173.46 335.97,172.20 C338.27,170.94 339.68,168.86 341.31,166.64 C342.94,164.41 344.57,161.82 345.76,158.85 C346.95,155.88 347.50,153.10 348.43,148.83 C349.36,144.57 350.39,137.89 351.32,133.25 C352.25,128.62 353.07,124.28 353.99,121.01 C354.92,117.75 355.92,113.86 356.89,113.67 C357.85,113.49 358.81,116.64 359.78,119.90 C360.74,123.17 361.82,128.80 362.67,133.25 C363.53,137.71 364.01,142.16 364.90,146.61 C365.79,151.06 366.94,156.25 368.01,159.96 C369.09,163.67 370.05,166.64 371.35,168.86 C372.65,171.09 373.84,172.34 375.80,173.31 C377.77,174.29 373.28,174.47 383.15,174.70 C393.01,174.93 422.06,174.70 435.00,174.70 C447.94,174.70 456.50,174.70 460.80,174.70 L460.80,174.70 L255.90,174.70 Z" fill="#0000ff" fill-opacity="0.5" stroke="none"/>
<path class="cv" d="M255.90,174.70 C264.13,174.70 293.32,174.78 305.25,174.70 C317.19,174.62 322.39,174.62 327.51,174.20 C332.63,173.79 333.67,173.46 335.97,172.20 C338.27,170.94 339.68,168.86 341.31,166.64 C342.94,164.41 344.57,161.82 345.76,158.85 C346.95,155.88 347.50,153.10 348.43,148.83 C349.36,144.57 350.39,137.89 351.32,133.25 C352.25,128.62 353.07,124.28 353.99,121.01 C354.92,117.75 355.92,113.86 356.89,113.67 C357.85,113.49 358.81,116.64 359.78,119.90 C360.74,123.17 361.82,128.80 362.67,133.25 C363.53,137.71 364.01,142.16 364.90,146.61 C365.79,151.06 366.94,156.25 368.01,159.96 C369.09,163.67 370.05,166.64 371.35,168.86 C372.65,171.09 373.84,172.34 375.80,173.31 C377.77,174.29 373.28,174.47 383.15,174.70 C393.01,174.93 422.06,174.70 435.00,174.70 C447.94,174.70 456.50,174.70 460.80,174.70"/>
<line x1="357.60" y1="113.30" x2="357.60" y2="174.70" stroke="#ff0000" stroke-width="1.3" stroke-opacity="0.8" stroke-dasharray="3.5 3.4" stroke-dashoffset="2.9"/>
<line x1="360.00" y1="113.30" x2="360.00" y2="174.70" stroke="#ff0000" stroke-width="1.8" stroke-opacity="0.55"/>
<path d="M255.90,174.70 C257.82,174.70 259.20,174.70 267.42,174.70 C275.65,174.70 297.09,174.78 305.25,174.70 C313.41,174.62 312.67,174.62 316.38,174.20 C320.09,173.79 324.17,173.28 327.51,172.20 C330.85,171.12 333.78,169.60 336.41,167.75 C339.04,165.90 341.16,163.86 343.31,161.07 C345.46,158.29 347.54,154.40 349.32,151.06 C351.10,147.72 352.51,144.12 353.99,141.04 C355.48,137.97 356.96,134.37 358.22,132.59 C359.48,130.81 360.48,130.25 361.56,130.36 C362.63,130.47 363.60,131.29 364.67,133.25 C365.75,135.22 366.94,138.82 368.01,142.16 C369.09,145.49 370.05,149.76 371.13,153.28 C372.20,156.81 373.35,160.63 374.47,163.30 C375.58,165.97 376.51,167.64 377.81,169.31 C379.10,170.98 380.51,172.41 382.26,173.31 C384.00,174.21 376.99,174.47 388.27,174.70 C399.54,174.93 437.82,174.70 449.91,174.70 C462.00,174.70 458.99,174.70 460.80,174.70 L460.80,174.70 L255.90,174.70 Z" fill="#ff0000" fill-opacity="0.5" stroke="none"/>
<path class="cv" d="M255.90,174.70 C257.82,174.70 259.20,174.70 267.42,174.70 C275.65,174.70 297.09,174.78 305.25,174.70 C313.41,174.62 312.67,174.62 316.38,174.20 C320.09,173.79 324.17,173.28 327.51,172.20 C330.85,171.12 333.78,169.60 336.41,167.75 C339.04,165.90 341.16,163.86 343.31,161.07 C345.46,158.29 347.54,154.40 349.32,151.06 C351.10,147.72 352.51,144.12 353.99,141.04 C355.48,137.97 356.96,134.37 358.22,132.59 C359.48,130.81 360.48,130.25 361.56,130.36 C362.63,130.47 363.60,131.29 364.67,133.25 C365.75,135.22 366.94,138.82 368.01,142.16 C369.09,145.49 370.05,149.76 371.13,153.28 C372.20,156.81 373.35,160.63 374.47,163.30 C375.58,165.97 376.51,167.64 377.81,169.31 C379.10,170.98 380.51,172.41 382.26,173.31 C384.00,174.21 376.99,174.47 388.27,174.70 C399.54,174.93 437.82,174.70 449.91,174.70 C462.00,174.70 458.99,174.70 460.80,174.70"/>
</g>
<path class="ax" d="M267.90,174.70 L267.90,113.30 L448.80,113.30 L448.80,174.70"/>
<path class="ax" style="stroke:#858585" d="M293.74,113.30 v2.60 M358.35,113.30 v2.60 M422.96,113.30 v2.60 M267.90,130.84 h2.60 M448.80,130.84 h-2.60"/>
<text class="tk" transform="translate(293.74,188.40) scale(0.9,1)" text-anchor="middle">-0.5</text>
<text class="tk" transform="translate(358.35,188.40) scale(0.9,1)" text-anchor="middle">0</text>
<text class="tk" transform="translate(422.96,188.40) scale(0.9,1)" text-anchor="middle">0.5</text>
<text class="tk" transform="translate(264.80,134.44) scale(0.9,1)" text-anchor="end">0.05</text>
<text class="tk" transform="translate(264.80,178.30) scale(0.9,1)" text-anchor="end">0</text>
<text y="105.50"><tspan x="345.10" textLength="9.38" lengthAdjust="spacingAndGlyphs" style="font-size:14.2px;font-style:italic">P</tspan><tspan x="355.43" textLength="10.43" lengthAdjust="spacingAndGlyphs" style="font-size:14.2px;font-style:italic">B</tspan><tspan x="365.86" textLength="6.75" lengthAdjust="spacingAndGlyphs" style="font-size:14.2px">2</tspan></text>
<path class="ax" style="stroke:#b4b4b4" d="M525.04,174.70 v-2.6 M589.65,174.70 v-2.6 M654.26,174.70 v-2.6"/>
<line x1="498.70" y1="174.80" x2="680.60" y2="174.80" stroke="#1c1c1c" stroke-width="0.9"/>
<clipPath id="c6"><rect x="499.20" y="113.30" width="180.90" height="62.40"/></clipPath>
<g clip-path="url(#c6)">
<line x1="603.20" y1="113.30" x2="603.20" y2="174.70" stroke="#0000ff" stroke-width="1.3" stroke-opacity="0.65"/>
<line x1="605.50" y1="113.30" x2="605.50" y2="174.70" stroke="#0000ff" stroke-width="1.4" stroke-opacity="1" stroke-dasharray="3.5 3.4" stroke-dashoffset="2.9"/>
<path d="M487.20,174.70 C499.08,174.70 543.84,174.78 558.51,174.70 C573.18,174.62 571.60,174.40 575.20,174.20 C578.80,174.01 578.54,174.06 580.10,173.54 C581.65,173.02 583.29,172.42 584.55,171.09 C585.81,169.75 586.77,167.56 587.66,165.52 C588.56,163.48 589.22,160.96 589.93,158.85 C590.64,156.74 591.26,154.98 591.92,152.88 C592.58,150.78 593.25,148.45 593.91,146.24 C594.58,144.03 595.24,141.59 595.90,139.60 C596.57,137.61 597.23,135.69 597.89,134.29 C598.56,132.90 599.18,131.95 599.89,131.24 C600.59,130.53 601.37,130.02 602.14,130.04 C602.92,130.07 603.80,130.55 604.53,131.37 C605.26,132.19 605.86,133.58 606.52,134.96 C607.19,136.33 607.74,137.72 608.51,139.60 C609.29,141.48 609.92,143.44 611.17,146.24 C612.42,149.04 614.60,153.78 616.00,156.43 C617.40,159.08 618.26,160.52 619.57,162.14 C620.88,163.76 622.19,164.95 623.86,166.14 C625.52,167.33 627.67,168.33 629.57,169.29 C631.48,170.24 633.38,171.14 635.29,171.86 C637.19,172.57 638.86,173.10 641.00,173.57 C643.14,174.05 644.57,174.51 648.14,174.70 C651.71,174.89 656.71,174.70 662.43,174.70 C668.14,174.70 677.48,174.70 682.43,174.70 C687.37,174.70 690.49,174.70 692.10,174.70 L692.10,174.70 L487.20,174.70 Z" fill="#0000ff" fill-opacity="0.5" stroke="none"/>
<path class="cv" d="M487.20,174.70 C499.08,174.70 543.84,174.78 558.51,174.70 C573.18,174.62 571.60,174.40 575.20,174.20 C578.80,174.01 578.54,174.06 580.10,173.54 C581.65,173.02 583.29,172.42 584.55,171.09 C585.81,169.75 586.77,167.56 587.66,165.52 C588.56,163.48 589.22,160.96 589.93,158.85 C590.64,156.74 591.26,154.98 591.92,152.88 C592.58,150.78 593.25,148.45 593.91,146.24 C594.58,144.03 595.24,141.59 595.90,139.60 C596.57,137.61 597.23,135.69 597.89,134.29 C598.56,132.90 599.18,131.95 599.89,131.24 C600.59,130.53 601.37,130.02 602.14,130.04 C602.92,130.07 603.80,130.55 604.53,131.37 C605.26,132.19 605.86,133.58 606.52,134.96 C607.19,136.33 607.74,137.72 608.51,139.60 C609.29,141.48 609.92,143.44 611.17,146.24 C612.42,149.04 614.60,153.78 616.00,156.43 C617.40,159.08 618.26,160.52 619.57,162.14 C620.88,163.76 622.19,164.95 623.86,166.14 C625.52,167.33 627.67,168.33 629.57,169.29 C631.48,170.24 633.38,171.14 635.29,171.86 C637.19,172.57 638.86,173.10 641.00,173.57 C643.14,174.05 644.57,174.51 648.14,174.70 C651.71,174.89 656.71,174.70 662.43,174.70 C668.14,174.70 677.48,174.70 682.43,174.70 C687.37,174.70 690.49,174.70 692.10,174.70"/>
<line x1="594.00" y1="113.30" x2="594.00" y2="174.70" stroke="#ff0000" stroke-width="1.5" stroke-opacity="0.65"/>
<line x1="599.65" y1="113.30" x2="599.65" y2="174.70" stroke="#ff0000" stroke-width="1.5" stroke-opacity="0.8" stroke-dasharray="3.5 3.4" stroke-dashoffset="2.9"/>
<path d="M487.57,174.70 C489.48,174.70 494.71,174.70 499.00,174.70 C503.29,174.70 509.71,174.84 513.29,174.70 C516.86,174.56 518.05,174.14 520.43,173.86 C522.81,173.57 525.19,173.38 527.57,173.00 C529.95,172.62 532.33,172.05 534.71,171.57 C537.10,171.10 539.48,170.62 541.86,170.14 C544.24,169.67 546.62,169.31 549.00,168.71 C551.38,168.12 553.76,167.29 556.14,166.57 C558.52,165.86 560.90,165.17 563.29,164.43 C565.67,163.69 568.29,162.69 570.43,162.14 C572.57,161.60 574.24,161.19 576.14,161.14 C578.05,161.10 579.60,161.39 581.86,161.86 C584.11,162.33 586.88,163.36 589.67,163.97 C592.45,164.58 595.96,165.23 598.57,165.52 C601.17,165.82 602.50,165.63 605.29,165.71 C608.07,165.79 612.19,165.93 615.29,166.00 C618.38,166.07 620.76,165.95 623.86,166.14 C626.95,166.33 629.81,166.62 633.86,167.14 C637.90,167.67 643.38,168.64 648.14,169.29 C652.90,169.93 657.19,170.45 662.43,171.00 C667.67,171.55 674.81,172.19 679.57,172.57 C684.33,172.95 689.10,173.17 691.00,173.29 L691.00,174.70 L487.57,174.70 Z" fill="#ff0000" fill-opacity="0.5" stroke="none"/>
<path class="cv" d="M487.57,174.70 C489.48,174.70 494.71,174.70 499.00,174.70 C503.29,174.70 509.71,174.84 513.29,174.70 C516.86,174.56 518.05,174.14 520.43,173.86 C522.81,173.57 525.19,173.38 527.57,173.00 C529.95,172.62 532.33,172.05 534.71,171.57 C537.10,171.10 539.48,170.62 541.86,170.14 C544.24,169.67 546.62,169.31 549.00,168.71 C551.38,168.12 553.76,167.29 556.14,166.57 C558.52,165.86 560.90,165.17 563.29,164.43 C565.67,163.69 568.29,162.69 570.43,162.14 C572.57,161.60 574.24,161.19 576.14,161.14 C578.05,161.10 579.60,161.39 581.86,161.86 C584.11,162.33 586.88,163.36 589.67,163.97 C592.45,164.58 595.96,165.23 598.57,165.52 C601.17,165.82 602.50,165.63 605.29,165.71 C608.07,165.79 612.19,165.93 615.29,166.00 C618.38,166.07 620.76,165.95 623.86,166.14 C626.95,166.33 629.81,166.62 633.86,167.14 C637.90,167.67 643.38,168.64 648.14,169.29 C652.90,169.93 657.19,170.45 662.43,171.00 C667.67,171.55 674.81,172.19 679.57,172.57 C684.33,172.95 689.10,173.17 691.00,173.29"/>
</g>
<path class="ax" d="M499.20,174.70 L499.20,113.30 L680.10,113.30 L680.10,174.70"/>
<path class="ax" style="stroke:#858585" d="M525.04,113.30 v2.60 M589.65,113.30 v2.60 M654.26,113.30 v2.60 M499.20,130.84 h2.60 M680.10,130.84 h-2.60"/>
<text class="tk" transform="translate(525.04,188.40) scale(0.9,1)" text-anchor="middle">-0.5</text>
<text class="tk" transform="translate(589.65,188.40) scale(0.9,1)" text-anchor="middle">0</text>
<text class="tk" transform="translate(654.26,188.40) scale(0.9,1)" text-anchor="middle">0.5</text>
<text class="tk" transform="translate(496.10,134.44) scale(0.9,1)" text-anchor="end">0.05</text>
<text class="tk" transform="translate(496.10,178.30) scale(0.9,1)" text-anchor="end">0</text>
<text y="105.50"><tspan x="576.40" textLength="9.38" lengthAdjust="spacingAndGlyphs" style="font-size:14.2px;font-style:italic">P</tspan><tspan x="586.73" textLength="10.43" lengthAdjust="spacingAndGlyphs" style="font-size:14.2px;font-style:italic">B</tspan><tspan x="597.04" textLength="6.59" lengthAdjust="spacingAndGlyphs" style="font-size:14.2px">3</tspan></text>
<path class="ax" style="stroke:#b4b4b4" d="M62.24,267.70 v-2.6 M126.85,267.70 v-2.6 M191.46,267.70 v-2.6"/>
<line x1="35.90" y1="267.80" x2="217.80" y2="267.80" stroke="#1c1c1c" stroke-width="0.9"/>
<clipPath id="c7"><rect x="36.40" y="206.50" width="180.90" height="62.20"/></clipPath>
<g clip-path="url(#c7)">
<line x1="120.40" y1="206.50" x2="120.40" y2="267.70" stroke="#0000ff" stroke-width="1.3" stroke-opacity="0.9" stroke-dasharray="3.5 3.4" stroke-dashoffset="2.9"/>
<line x1="122.50" y1="206.50" x2="122.50" y2="267.70" stroke="#0000ff" stroke-width="1.2" stroke-opacity="0.8"/>
<path d="M24.40,267.70 C29.00,267.70 44.43,267.70 52.00,267.70 C59.57,267.70 65.52,267.70 69.80,267.70 C74.09,267.70 74.81,267.96 77.72,267.70 C80.63,267.44 84.30,266.72 87.26,266.12 C90.21,265.51 93.16,264.75 95.43,264.07 C97.71,263.39 99.30,262.89 100.89,262.03 C102.48,261.16 103.95,259.91 104.97,258.89 C106.00,257.87 106.45,256.85 107.02,255.89 C107.59,254.94 107.93,254.08 108.38,253.17 C108.84,252.26 109.06,252.26 109.74,250.44 C110.43,248.63 111.34,246.11 112.47,242.27 C113.60,238.42 115.30,231.22 116.54,227.37 C117.77,223.51 118.88,220.80 119.88,219.13 C120.88,217.46 121.62,217.20 122.55,217.35 C123.47,217.50 124.40,217.98 125.44,220.02 C126.48,222.06 127.67,225.96 128.78,229.59 C129.89,233.23 131.00,237.75 132.12,241.83 C133.23,245.91 134.34,250.73 135.46,254.07 C136.57,257.41 137.50,259.90 138.79,261.86 C140.09,263.83 141.39,264.90 143.24,265.87 C145.10,266.84 139.80,267.39 149.92,267.70 C160.05,268.01 190.77,267.70 204.00,267.70 C217.23,267.70 225.08,267.70 229.30,267.70 L229.30,267.70 L24.40,267.70 Z" fill="#0000ff" fill-opacity="0.5" stroke="none"/>
<path class="cv" d="M24.40,267.70 C29.00,267.70 44.43,267.70 52.00,267.70 C59.57,267.70 65.52,267.70 69.80,267.70 C74.09,267.70 74.81,267.96 77.72,267.70 C80.63,267.44 84.30,266.72 87.26,266.12 C90.21,265.51 93.16,264.75 95.43,264.07 C97.71,263.39 99.30,262.89 100.89,262.03 C102.48,261.16 103.95,259.91 104.97,258.89 C106.00,257.87 106.45,256.85 107.02,255.89 C107.59,254.94 107.93,254.08 108.38,253.17 C108.84,252.26 109.06,252.26 109.74,250.44 C110.43,248.63 111.34,246.11 112.47,242.27 C113.60,238.42 115.30,231.22 116.54,227.37 C117.77,223.51 118.88,220.80 119.88,219.13 C120.88,217.46 121.62,217.20 122.55,217.35 C123.47,217.50 124.40,217.98 125.44,220.02 C126.48,222.06 127.67,225.96 128.78,229.59 C129.89,233.23 131.00,237.75 132.12,241.83 C133.23,245.91 134.34,250.73 135.46,254.07 C136.57,257.41 137.50,259.90 138.79,261.86 C140.09,263.83 141.39,264.90 143.24,265.87 C145.10,266.84 139.80,267.39 149.92,267.70 C160.05,268.01 190.77,267.70 204.00,267.70 C217.23,267.70 225.08,267.70 229.30,267.70"/>
<line x1="124.30" y1="206.50" x2="124.30" y2="267.70" stroke="#ff0000" stroke-width="1.5" stroke-opacity="0.6" stroke-dasharray="3.5 3.4" stroke-dashoffset="2.9"/>
<line x1="128.00" y1="206.50" x2="128.00" y2="267.70" stroke="#ff0000" stroke-width="1.8" stroke-opacity="0.55"/>
<path d="M24.40,267.70 C26.40,267.70 31.82,267.70 36.42,267.70 C41.02,267.70 47.18,267.78 52.00,267.70 C56.82,267.62 60.90,267.51 65.35,267.20 C69.80,266.90 75.00,266.57 78.71,265.87 C82.41,265.16 84.64,264.01 87.61,262.98 C90.57,261.94 93.54,260.82 96.51,259.64 C99.48,258.45 102.82,257.04 105.41,255.85 C108.01,254.67 109.86,253.74 112.09,252.52 C114.31,251.29 116.54,249.92 118.76,248.51 C120.99,247.10 123.59,245.36 125.44,244.06 C127.30,242.76 128.48,241.46 129.89,240.72 C131.30,239.98 132.74,239.60 133.90,239.61 C135.05,239.61 135.82,240.07 136.82,240.75 C137.82,241.42 138.86,242.46 139.88,243.65 C140.90,244.85 141.92,246.46 142.94,247.94 C143.96,249.41 144.97,251.04 145.99,252.52 C147.01,254.00 148.03,255.48 149.05,256.80 C150.07,258.13 150.96,259.28 152.11,260.47 C153.26,261.67 154.66,263.07 155.93,263.99 C157.21,264.91 158.35,265.44 159.76,265.98 C161.16,266.51 162.81,266.91 164.34,267.20 C165.87,267.49 164.60,267.62 168.93,267.70 C173.26,267.78 180.27,267.70 190.34,267.70 C200.40,267.70 222.81,267.70 229.30,267.70 L229.30,267.70 L24.40,267.70 Z" fill="#ff0000" fill-opacity="0.5" stroke="none"/>
<path class="cv" d="M24.40,267.70 C26.40,267.70 31.82,267.70 36.42,267.70 C41.02,267.70 47.18,267.78 52.00,267.70 C56.82,267.62 60.90,267.51 65.35,267.20 C69.80,266.90 75.00,266.57 78.71,265.87 C82.41,265.16 84.64,264.01 87.61,262.98 C90.57,261.94 93.54,260.82 96.51,259.64 C99.48,258.45 102.82,257.04 105.41,255.85 C108.01,254.67 109.86,253.74 112.09,252.52 C114.31,251.29 116.54,249.92 118.76,248.51 C120.99,247.10 123.59,245.36 125.44,244.06 C127.30,242.76 128.48,241.46 129.89,240.72 C131.30,239.98 132.74,239.60 133.90,239.61 C135.05,239.61 135.82,240.07 136.82,240.75 C137.82,241.42 138.86,242.46 139.88,243.65 C140.90,244.85 141.92,246.46 142.94,247.94 C143.96,249.41 144.97,251.04 145.99,252.52 C147.01,254.00 148.03,255.48 149.05,256.80 C150.07,258.13 150.96,259.28 152.11,260.47 C153.26,261.67 154.66,263.07 155.93,263.99 C157.21,264.91 158.35,265.44 159.76,265.98 C161.16,266.51 162.81,266.91 164.34,267.20 C165.87,267.49 164.60,267.62 168.93,267.70 C173.26,267.78 180.27,267.70 190.34,267.70 C200.40,267.70 222.81,267.70 229.30,267.70"/>
</g>
<path class="ax" d="M36.40,267.70 L36.40,206.50 L217.30,206.50 L217.30,267.70"/>
<path class="ax" style="stroke:#858585" d="M62.24,206.50 v2.60 M126.85,206.50 v2.60 M191.46,206.50 v2.60 M36.40,223.99 h2.60 M217.30,223.99 h-2.60"/>
<text class="tk" transform="translate(62.24,281.40) scale(0.9,1)" text-anchor="middle">-0.5</text>
<text class="tk" transform="translate(126.85,281.40) scale(0.9,1)" text-anchor="middle">0</text>
<text class="tk" transform="translate(191.46,281.40) scale(0.9,1)" text-anchor="middle">0.5</text>
<text class="tk" transform="translate(33.30,227.59) scale(0.9,1)" text-anchor="end">0.05</text>
<text class="tk" transform="translate(33.30,271.30) scale(0.9,1)" text-anchor="end">0</text>
<text y="199.50"><tspan x="113.50" textLength="9.38" lengthAdjust="spacingAndGlyphs" style="font-size:14.2px;font-style:italic">P</tspan><tspan x="122.44" textLength="10.72" lengthAdjust="spacingAndGlyphs" style="font-size:14.2px;font-style:italic">C</tspan><tspan x="134.35" textLength="6.88" lengthAdjust="spacingAndGlyphs" style="font-size:14.2px">2</tspan></text>
<text class="tk" transform="translate(17.2,250.00) rotate(-90) scale(1.085,1)" text-anchor="middle" style="font-size:12.5px;stroke:#222;stroke-width:0.15px">p.d.f.</text>
<text x="123.95" y="297.5" text-anchor="middle" style="font-size:12.5px"><tspan font-style="italic">w</tspan> (m s<tspan dy="-3.9" style="font-size:10px">-1</tspan><tspan dy="3.9">)</tspan></text>
<path class="ax" style="stroke:#b4b4b4" d="M293.74,267.70 v-2.6 M358.35,267.70 v-2.6 M422.96,267.70 v-2.6"/>
<line x1="267.40" y1="267.80" x2="449.30" y2="267.80" stroke="#1c1c1c" stroke-width="0.9"/>
<clipPath id="c8"><rect x="267.90" y="206.50" width="180.90" height="62.20"/></clipPath>
<g clip-path="url(#c8)">
<line x1="353.10" y1="206.50" x2="353.10" y2="267.70" stroke="#0000ff" stroke-width="1.5" stroke-opacity="0.8" stroke-dasharray="3.5 3.4" stroke-dashoffset="2.9"/>
<line x1="353.50" y1="206.50" x2="353.50" y2="267.70" stroke="#0000ff" stroke-width="1.0" stroke-opacity="0.9"/>
<path d="M255.90,267.70 C260.42,267.70 274.77,267.70 283.00,267.70 C291.23,267.70 300.07,267.70 305.25,267.70 C310.44,267.70 311.48,267.81 314.08,267.70 C316.69,267.59 318.85,267.37 320.89,267.04 C322.94,266.70 324.57,266.33 326.34,265.68 C328.11,265.02 329.99,264.09 331.51,263.09 C333.03,262.09 334.26,260.89 335.46,259.68 C336.67,258.48 337.82,257.19 338.73,255.87 C339.64,254.56 340.27,253.26 340.91,251.79 C341.55,250.31 341.98,249.06 342.54,247.02 C343.11,244.98 343.77,241.69 344.31,239.53 C344.86,237.38 345.27,235.74 345.81,234.08 C346.35,232.43 346.69,232.01 347.54,229.59 C348.38,227.18 349.84,221.80 350.88,219.58 C351.92,217.35 352.77,216.31 353.77,216.24 C354.77,216.17 355.88,217.46 356.89,219.13 C357.89,220.80 358.74,223.21 359.78,226.25 C360.82,229.30 362.65,235.85 363.12,237.38 C363.58,238.91 362.34,234.75 362.56,235.45 C362.78,236.15 363.83,239.53 364.47,241.57 C365.10,243.62 365.74,245.77 366.37,247.70 C367.01,249.63 367.62,251.45 368.28,253.15 C368.94,254.85 369.55,256.33 370.32,257.91 C371.09,259.50 372.02,261.39 372.91,262.68 C373.79,263.97 374.70,264.95 375.63,265.68 C376.56,266.40 376.72,266.70 378.49,267.04 C380.26,267.37 381.78,267.59 386.25,267.70 C390.72,267.81 392.89,267.70 405.32,267.70 C417.74,267.70 451.55,267.70 460.80,267.70 L460.80,267.70 L255.90,267.70 Z" fill="#0000ff" fill-opacity="0.5" stroke="none"/>
<path class="cv" d="M255.90,267.70 C260.42,267.70 274.77,267.70 283.00,267.70 C291.23,267.70 300.07,267.70 305.25,267.70 C310.44,267.70 311.48,267.81 314.08,267.70 C316.69,267.59 318.85,267.37 320.89,267.04 C322.94,266.70 324.57,266.33 326.34,265.68 C328.11,265.02 329.99,264.09 331.51,263.09 C333.03,262.09 334.26,260.89 335.46,259.68 C336.67,258.48 337.82,257.19 338.73,255.87 C339.64,254.56 340.27,253.26 340.91,251.79 C341.55,250.31 341.98,249.06 342.54,247.02 C343.11,244.98 343.77,241.69 344.31,239.53 C344.86,237.38 345.27,235.74 345.81,234.08 C346.35,232.43 346.69,232.01 347.54,229.59 C348.38,227.18 349.84,221.80 350.88,219.58 C351.92,217.35 352.77,216.31 353.77,216.24 C354.77,216.17 355.88,217.46 356.89,219.13 C357.89,220.80 358.74,223.21 359.78,226.25 C360.82,229.30 362.65,235.85 363.12,237.38 C363.58,238.91 362.34,234.75 362.56,235.45 C362.78,236.15 363.83,239.53 364.47,241.57 C365.10,243.62 365.74,245.77 366.37,247.70 C367.01,249.63 367.62,251.45 368.28,253.15 C368.94,254.85 369.55,256.33 370.32,257.91 C371.09,259.50 372.02,261.39 372.91,262.68 C373.79,263.97 374.70,264.95 375.63,265.68 C376.56,266.40 376.72,266.70 378.49,267.04 C380.26,267.37 381.78,267.59 386.25,267.70 C390.72,267.81 392.89,267.70 405.32,267.70 C417.74,267.70 451.55,267.70 460.80,267.70"/>
<line x1="354.30" y1="206.50" x2="354.30" y2="267.70" stroke="#ff0000" stroke-width="1.5" stroke-opacity="0.5" stroke-dasharray="3.5 3.4" stroke-dashoffset="2.9"/>
<line x1="356.65" y1="206.50" x2="356.65" y2="267.70" stroke="#ff0000" stroke-width="1.1" stroke-opacity="0.9"/>
<path d="M255.90,267.70 C257.82,267.70 262.91,267.70 267.42,267.70 C271.94,267.70 277.44,267.70 283.00,267.70 C288.56,267.70 296.76,267.70 300.80,267.70 C304.85,267.70 305.06,267.81 307.28,267.70 C309.49,267.59 311.82,267.31 314.08,267.04 C316.35,266.77 318.85,266.58 320.89,266.08 C322.94,265.58 324.52,264.95 326.34,264.04 C328.16,263.13 330.20,261.77 331.79,260.64 C333.38,259.50 334.62,258.48 335.87,257.23 C337.12,255.98 338.25,254.51 339.28,253.15 C340.30,251.79 341.09,250.65 342.00,249.06 C342.91,247.47 343.81,245.43 344.72,243.62 C345.63,241.80 346.54,239.99 347.45,238.17 C348.35,236.35 348.97,234.71 350.17,232.72 C351.37,230.74 353.36,227.63 354.66,226.25 C355.97,224.88 356.96,224.47 358.00,224.47 C359.04,224.47 359.81,224.43 360.89,226.25 C361.97,228.08 363.53,232.89 364.47,235.45 C365.40,238.00 365.83,239.53 366.51,241.57 C367.19,243.62 367.87,245.77 368.55,247.70 C369.23,249.63 369.91,251.45 370.59,253.15 C371.27,254.85 371.84,256.33 372.64,257.91 C373.43,259.50 374.45,261.39 375.36,262.68 C376.27,263.97 377.06,264.95 378.08,265.68 C379.10,266.40 379.90,266.70 381.49,267.04 C383.08,267.37 383.64,267.59 387.61,267.70 C391.59,267.81 393.12,267.70 405.32,267.70 C417.51,267.70 451.55,267.70 460.80,267.70 L460.80,267.70 L255.90,267.70 Z" fill="#ff0000" fill-opacity="0.5" stroke="none"/>
<path class="cv" d="M255.90,267.70 C257.82,267.70 262.91,267.70 267.42,267.70 C271.94,267.70 277.44,267.70 283.00,267.70 C288.56,267.70 296.76,267.70 300.80,267.70 C304.85,267.70 305.06,267.81 307.28,267.70 C309.49,267.59 311.82,267.31 314.08,267.04 C316.35,266.77 318.85,266.58 320.89,266.08 C322.94,265.58 324.52,264.95 326.34,264.04 C328.16,263.13 330.20,261.77 331.79,260.64 C333.38,259.50 334.62,258.48 335.87,257.23 C337.12,255.98 338.25,254.51 339.28,253.15 C340.30,251.79 341.09,250.65 342.00,249.06 C342.91,247.47 343.81,245.43 344.72,243.62 C345.63,241.80 346.54,239.99 347.45,238.17 C348.35,236.35 348.97,234.71 350.17,232.72 C351.37,230.74 353.36,227.63 354.66,226.25 C355.97,224.88 356.96,224.47 358.00,224.47 C359.04,224.47 359.81,224.43 360.89,226.25 C361.97,228.08 363.53,232.89 364.47,235.45 C365.40,238.00 365.83,239.53 366.51,241.57 C367.19,243.62 367.87,245.77 368.55,247.70 C369.23,249.63 369.91,251.45 370.59,253.15 C371.27,254.85 371.84,256.33 372.64,257.91 C373.43,259.50 374.45,261.39 375.36,262.68 C376.27,263.97 377.06,264.95 378.08,265.68 C379.10,266.40 379.90,266.70 381.49,267.04 C383.08,267.37 383.64,267.59 387.61,267.70 C391.59,267.81 393.12,267.70 405.32,267.70 C417.51,267.70 451.55,267.70 460.80,267.70"/>
</g>
<path class="ax" d="M267.90,267.70 L267.90,206.50 L448.80,206.50 L448.80,267.70"/>
<path class="ax" style="stroke:#858585" d="M293.74,206.50 v2.60 M358.35,206.50 v2.60 M422.96,206.50 v2.60 M267.90,223.99 h2.60 M448.80,223.99 h-2.60"/>
<text class="tk" transform="translate(293.74,281.40) scale(0.9,1)" text-anchor="middle">-0.5</text>
<text class="tk" transform="translate(358.35,281.40) scale(0.9,1)" text-anchor="middle">0</text>
<text class="tk" transform="translate(422.96,281.40) scale(0.9,1)" text-anchor="middle">0.5</text>
<text class="tk" transform="translate(264.80,227.59) scale(0.9,1)" text-anchor="end">0.05</text>
<text class="tk" transform="translate(264.80,271.30) scale(0.9,1)" text-anchor="end">0</text>
<text y="199.50"><tspan x="345.00" textLength="9.38" lengthAdjust="spacingAndGlyphs" style="font-size:14.2px;font-style:italic">P</tspan><tspan x="353.94" textLength="10.72" lengthAdjust="spacingAndGlyphs" style="font-size:14.2px;font-style:italic">C</tspan><tspan x="365.13" textLength="6.71" lengthAdjust="spacingAndGlyphs" style="font-size:14.2px">3</tspan></text>
<text x="355.45" y="297.5" text-anchor="middle" style="font-size:12.5px"><tspan font-style="italic">w</tspan> (m s<tspan dy="-3.9" style="font-size:10px">-1</tspan><tspan dy="3.9">)</tspan></text>
<path class="ax" style="stroke:#b4b4b4" d="M525.04,267.70 v-2.6 M589.65,267.70 v-2.6 M654.26,267.70 v-2.6"/>
<line x1="498.70" y1="267.80" x2="680.60" y2="267.80" stroke="#1c1c1c" stroke-width="0.9"/>
<clipPath id="c9"><rect x="499.20" y="206.50" width="180.90" height="62.20"/></clipPath>
<g clip-path="url(#c9)">
<line x1="594.50" y1="206.50" x2="594.50" y2="267.70" stroke="#0000ff" stroke-width="1.2" stroke-opacity="0.85"/>
<line x1="599.00" y1="206.50" x2="599.00" y2="267.70" stroke="#0000ff" stroke-width="1.8" stroke-opacity="0.5" stroke-dasharray="3.5 3.4" stroke-dashoffset="2.9"/>
<path d="M487.20,267.70 C497.23,267.70 534.12,267.78 547.38,267.70 C560.64,267.62 562.55,267.36 566.74,267.20 C570.94,267.05 570.86,267.28 572.53,266.76 C574.20,266.24 575.45,265.83 576.76,264.09 C578.07,262.34 579.41,258.62 580.41,256.28 C581.40,253.94 581.97,252.51 582.75,250.03 C583.53,247.56 584.31,244.17 585.09,241.44 C585.88,238.70 586.66,235.84 587.44,233.62 C588.22,231.41 589.05,229.59 589.78,228.16 C590.51,226.72 591.16,225.73 591.81,225.03 C592.46,224.33 593.06,223.94 593.69,223.94 C594.31,223.94 594.91,224.20 595.56,225.03 C596.21,225.86 596.86,227.38 597.59,228.94 C598.32,230.50 599.16,232.58 599.94,234.41 C600.72,236.23 601.39,238.20 602.28,239.88 C603.17,241.55 604.07,242.84 605.29,244.43 C606.50,246.02 608.14,247.88 609.57,249.43 C611.00,250.98 612.43,252.29 613.86,253.71 C615.29,255.14 616.71,256.69 618.14,258.00 C619.57,259.31 620.76,260.50 622.43,261.57 C624.10,262.64 626.24,263.69 628.14,264.43 C630.05,265.17 631.71,265.60 633.86,266.00 C636.00,266.40 638.14,266.57 641.00,266.86 C643.86,267.14 644.10,267.56 651.00,267.70 C657.90,267.84 675.58,267.70 682.43,267.70 C689.28,267.70 690.49,267.70 692.10,267.70 L692.10,267.70 L487.20,267.70 Z" fill="#0000ff" fill-opacity="0.5" stroke="none"/>
<path class="cv" d="M487.20,267.70 C497.23,267.70 534.12,267.78 547.38,267.70 C560.64,267.62 562.55,267.36 566.74,267.20 C570.94,267.05 570.86,267.28 572.53,266.76 C574.20,266.24 575.45,265.83 576.76,264.09 C578.07,262.34 579.41,258.62 580.41,256.28 C581.40,253.94 581.97,252.51 582.75,250.03 C583.53,247.56 584.31,244.17 585.09,241.44 C585.88,238.70 586.66,235.84 587.44,233.62 C588.22,231.41 589.05,229.59 589.78,228.16 C590.51,226.72 591.16,225.73 591.81,225.03 C592.46,224.33 593.06,223.94 593.69,223.94 C594.31,223.94 594.91,224.20 595.56,225.03 C596.21,225.86 596.86,227.38 597.59,228.94 C598.32,230.50 599.16,232.58 599.94,234.41 C600.72,236.23 601.39,238.20 602.28,239.88 C603.17,241.55 604.07,242.84 605.29,244.43 C606.50,246.02 608.14,247.88 609.57,249.43 C611.00,250.98 612.43,252.29 613.86,253.71 C615.29,255.14 616.71,256.69 618.14,258.00 C619.57,259.31 620.76,260.50 622.43,261.57 C624.10,262.64 626.24,263.69 628.14,264.43 C630.05,265.17 631.71,265.60 633.86,266.00 C636.00,266.40 638.14,266.57 641.00,266.86 C643.86,267.14 644.10,267.56 651.00,267.70 C657.90,267.84 675.58,267.70 682.43,267.70 C689.28,267.70 690.49,267.70 692.10,267.70"/>
<line x1="583.00" y1="206.50" x2="583.00" y2="267.70" stroke="#ff0000" stroke-width="2.0" stroke-opacity="0.5"/>
<line x1="588.40" y1="206.50" x2="588.40" y2="267.70" stroke="#ff0000" stroke-width="1.4" stroke-opacity="0.9" stroke-dasharray="3.5 3.4" stroke-dashoffset="2.9"/>
<path d="M487.57,267.70 C489.48,267.56 495.67,267.14 499.00,266.86 C502.33,266.57 504.71,266.31 507.57,266.00 C510.43,265.69 513.29,265.26 516.14,265.00 C519.00,264.74 521.86,264.64 524.71,264.43 C527.57,264.21 530.90,264.07 533.29,263.71 C535.67,263.36 537.10,262.95 539.00,262.29 C540.90,261.62 542.81,260.55 544.71,259.71 C546.62,258.88 548.52,257.98 550.43,257.29 C552.33,256.60 554.24,256.00 556.14,255.57 C558.05,255.14 559.95,254.86 561.86,254.71 C563.76,254.57 565.67,254.57 567.57,254.71 C569.48,254.86 571.38,255.19 573.29,255.57 C575.19,255.95 577.10,256.60 579.00,257.00 C580.90,257.40 582.71,257.76 584.71,258.00 C586.71,258.24 587.57,258.19 591.00,258.43 C594.43,258.67 600.05,258.93 605.29,259.43 C610.52,259.93 617.99,260.97 622.43,261.43 C626.86,261.89 628.85,261.94 631.90,262.20 C634.95,262.46 637.78,262.77 640.70,263.00 C643.62,263.23 646.48,263.40 649.40,263.60 C652.32,263.80 655.28,264.00 658.20,264.20 C661.12,264.40 663.98,264.62 666.90,264.80 C669.82,264.98 673.47,265.17 675.70,265.30 C677.93,265.43 677.92,265.48 680.30,265.60 C682.68,265.72 688.38,265.93 690.00,266.00 L690.00,267.70 L487.57,267.70 Z" fill="#ff0000" fill-opacity="0.5" stroke="none"/>
<path class="cv" d="M487.57,267.70 C489.48,267.56 495.67,267.14 499.00,266.86 C502.33,266.57 504.71,266.31 507.57,266.00 C510.43,265.69 513.29,265.26 516.14,265.00 C519.00,264.74 521.86,264.64 524.71,264.43 C527.57,264.21 530.90,264.07 533.29,263.71 C535.67,263.36 537.10,262.95 539.00,262.29 C540.90,261.62 542.81,260.55 544.71,259.71 C546.62,258.88 548.52,257.98 550.43,257.29 C552.33,256.60 554.24,256.00 556.14,255.57 C558.05,255.14 559.95,254.86 561.86,254.71 C563.76,254.57 565.67,254.57 567.57,254.71 C569.48,254.86 571.38,255.19 573.29,255.57 C575.19,255.95 577.10,256.60 579.00,257.00 C580.90,257.40 582.71,257.76 584.71,258.00 C586.71,258.24 587.57,258.19 591.00,258.43 C594.43,258.67 600.05,258.93 605.29,259.43 C610.52,259.93 617.99,260.97 622.43,261.43 C626.86,261.89 628.85,261.94 631.90,262.20 C634.95,262.46 637.78,262.77 640.70,263.00 C643.62,263.23 646.48,263.40 649.40,263.60 C652.32,263.80 655.28,264.00 658.20,264.20 C661.12,264.40 663.98,264.62 666.90,264.80 C669.82,264.98 673.47,265.17 675.70,265.30 C677.93,265.43 677.92,265.48 680.30,265.60 C682.68,265.72 688.38,265.93 690.00,266.00"/>
</g>
<path class="ax" d="M499.20,267.70 L499.20,206.50 L680.10,206.50 L680.10,267.70"/>
<path class="ax" style="stroke:#858585" d="M525.04,206.50 v2.60 M589.65,206.50 v2.60 M654.26,206.50 v2.60 M499.20,223.99 h2.60 M680.10,223.99 h-2.60"/>
<text class="tk" transform="translate(525.04,281.40) scale(0.9,1)" text-anchor="middle">-0.5</text>
<text class="tk" transform="translate(589.65,281.40) scale(0.9,1)" text-anchor="middle">0</text>
<text class="tk" transform="translate(654.26,281.40) scale(0.9,1)" text-anchor="middle">0.5</text>
<text class="tk" transform="translate(496.10,227.59) scale(0.9,1)" text-anchor="end">0.05</text>
<text class="tk" transform="translate(496.10,271.30) scale(0.9,1)" text-anchor="end">0</text>
<text y="199.50"><tspan x="576.30" textLength="9.38" lengthAdjust="spacingAndGlyphs" style="font-size:14.2px;font-style:italic">P</tspan><tspan x="585.24" textLength="10.72" lengthAdjust="spacingAndGlyphs" style="font-size:14.2px;font-style:italic">C</tspan><tspan x="596.52" textLength="7.07" lengthAdjust="spacingAndGlyphs" style="font-size:14.2px">4</tspan></text>
<text x="586.75" y="297.5" text-anchor="middle" style="font-size:12.5px"><tspan font-style="italic">w</tspan> (m s<tspan dy="-3.9" style="font-size:10px">-1</tspan><tspan dy="3.9">)</tspan></text>
</svg></body></html>
